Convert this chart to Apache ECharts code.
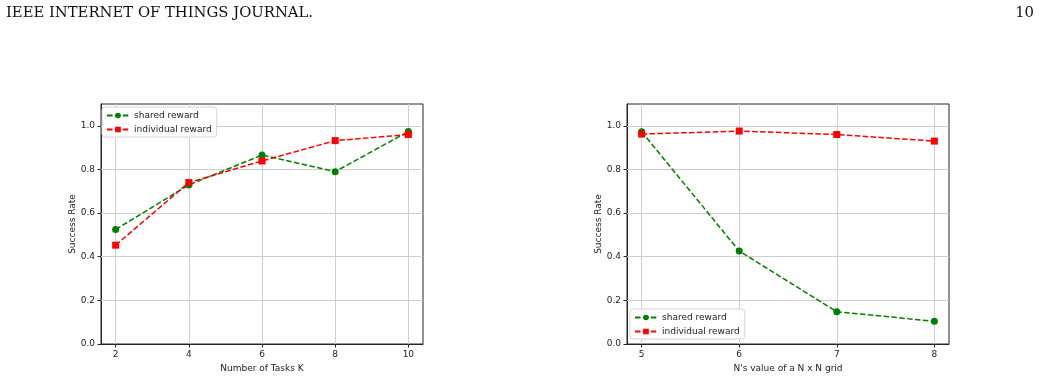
<!DOCTYPE html>
<html>
<head>
<meta charset="utf-8">
<script src="https://cdn.jsdelivr.net/npm/echarts@6/dist/echarts.min.js"></script>
<style>
  html, body { margin: 0; padding: 0; background: #fff; }
  #chart { width: 1040px; height: 378px; }
</style>
</head>
<body>
<div id="chart"></div>
<script>
// left panel: number of tasks K
const taskCounts = [2, 4, 6, 8, 10];
const taskShared = [0.525, 0.729, 0.866, 0.790, 0.974];
const taskIndividual = [0.453, 0.740, 0.839, 0.932, 0.960];

// right panel: N of a N x N grid
const gridSizes = [5, 6, 7, 8];
const gridShared = [0.973, 0.426, 0.148, 0.104];
const gridIndividual = [0.962, 0.976, 0.960, 0.930];

const yTicks = [0, 0.2, 0.4, 0.6, 0.8, 1.0];

const green = '#008000';
const red = '#ff0000';
const gridLineColor = '#cfcfcf';
const spineColor = '#262626';
const tickFont = 'DejaVu Sans';

const pairs = (xs, ys) => xs.map((x, i) => [x, ys[i]]);

const makeX = (gridIndex, min, max, ticks, name) => ({
  type: 'value',
  gridIndex,
  min,
  max,
  name,
  nameLocation: 'middle',
  nameGap: 19,
  nameTextStyle: { fontFamily: tickFont, fontSize: 9, color: '#222' },
  axisLine: { onZero: false, lineStyle: { color: spineColor, width: 1 } },
  axisTick: { show: true, length: 3.5, customValues: ticks, lineStyle: { color: spineColor } },
  axisLabel: { customValues: ticks, margin: 6, fontFamily: tickFont, fontSize: 9, color: '#222' },
  splitLine: { show: false }
});

const makeY = (gridIndex) => ({
  type: 'value',
  gridIndex,
  min: 0,
  max: 1.1,
  name: 'Success Rate',
  nameLocation: 'middle',
  nameGap: 24,
  nameTextStyle: { fontFamily: tickFont, fontSize: 9, color: '#222' },
  axisLine: { show: true, lineStyle: { color: spineColor, width: 1 } },
  axisTick: { show: true, length: 3.5, customValues: yTicks, lineStyle: { color: spineColor } },
  axisLabel: {
    customValues: yTicks, margin: 6, fontFamily: tickFont, fontSize: 9, color: '#222',
    formatter: v => v.toFixed(1)
  },
  splitLine: { show: false }
});

// matplotlib style grid lines drawn as mark lines on the scales
const gridMarks = (ticks) => ({
  silent: true,
  symbol: 'none',
  z: 1,
  label: { show: false },
  emphasis: { disabled: true },
  lineStyle: { color: gridLineColor, width: 1, type: 'solid' },
  data: ticks.map(t => ({ xAxis: t })).concat(yTicks.slice(1).map(t => ({ yAxis: t })))
});

const lineSeries = (name, data, xi, color, symbol, withGrid) => ({
  name,
  type: 'line',
  xAxisIndex: xi,
  yAxisIndex: xi,
  data,
  symbol,
  symbolSize: 7,
  showSymbol: true,
  z: 3,
  lineStyle: { color, width: 1.5, type: [5.5, 2.4] },
  itemStyle: { color, borderWidth: 0, borderType: 'solid' },
  emphasis: { disabled: true },
  markLine: withGrid || undefined
});

const legendBase = {
  orient: 'vertical',
  z: 20,
  backgroundColor: 'rgba(255,255,255,0.92)',
  borderColor: '#d5d5d5',
  borderWidth: 1,
  borderRadius: 3,
  padding: [4, 5, 3, 4],
  itemGap: 5,
  itemWidth: 22,
  itemHeight: 7,
  textStyle: { fontFamily: tickFont, fontSize: 9, color: '#222' },
  data: ['shared reward', 'individual reward']
};

const chart = echarts.init(document.getElementById('chart'), null, { renderer: 'canvas' });
chart.setOption({
  animation: false,
  backgroundColor: '#fff',
  title: [
    {
      text: 'IEEE INTERNET OF THINGS JOURNAL.',
      left: 6, top: 6, padding: 0,
      textStyle: { fontFamily: 'DejaVu Serif', fontSize: 14.8, fontWeight: 'normal', color: '#111' }
    },
    {
      text: '10',
      right: 6, top: 6, padding: 0,
      textStyle: { fontFamily: 'DejaVu Serif', fontSize: 14.8, fontWeight: 'normal', color: '#111' }
    }
  ],
  grid: [
    { left: 101, top: 104, width: 322, height: 240, outerBoundsMode: 'none', containLabel: false, show: true, borderColor: spineColor, borderWidth: 1, backgroundColor: 'transparent' },
    { left: 627, top: 104, width: 322, height: 240, outerBoundsMode: 'none', containLabel: false, show: true, borderColor: spineColor, borderWidth: 1, backgroundColor: 'transparent' }
  ],
  xAxis: [
    makeX(0, 1.6, 10.4, taskCounts, 'Number of Tasks K'),
    makeX(1, 4.85, 8.15, gridSizes, "N's value of a N x N grid")
  ],
  yAxis: [makeY(0), makeY(1)],
  legend: [
    Object.assign({}, legendBase, { left: 102, top: 107 }),
    Object.assign({}, legendBase, { left: 630, top: 309 })
  ],
  series: [
    lineSeries('shared reward', pairs(taskCounts, taskShared), 0, green, 'circle', gridMarks(taskCounts)),
    lineSeries('individual reward', pairs(taskCounts, taskIndividual), 0, red, 'rect'),
    lineSeries('shared reward', pairs(gridSizes, gridShared), 1, green, 'circle', gridMarks(gridSizes)),
    lineSeries('individual reward', pairs(gridSizes, gridIndividual), 1, red, 'rect')
  ]
});
</script>
</body>
</html>
